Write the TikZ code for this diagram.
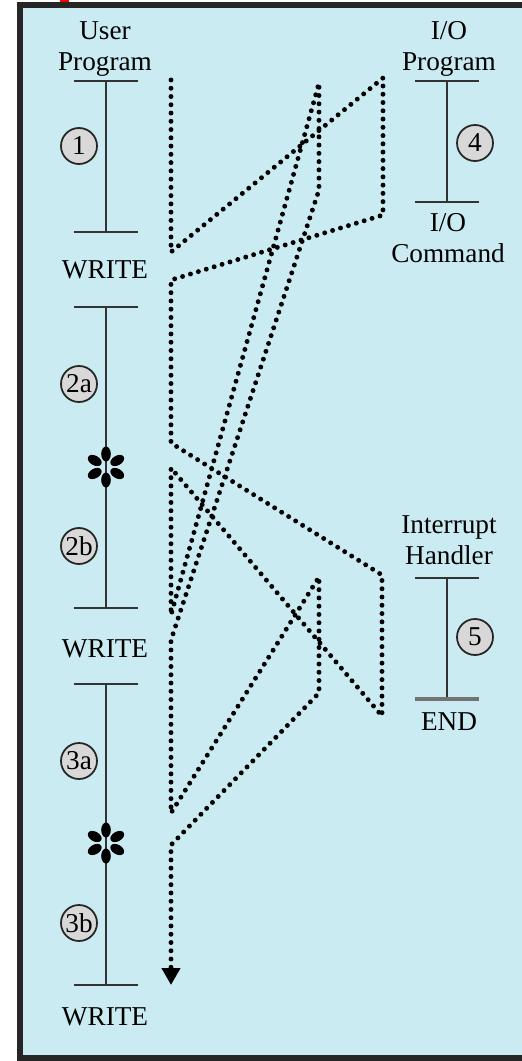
\documentclass[tikz,border=0pt]{standalone}
\usepackage{fontspec}
\setmainfont{Liberation Serif}
\usepackage{tikz}
\usetikzlibrary{arrows.meta,positioning,calc}
\definecolor{panelblue}{RGB}{203,235,242}
\definecolor{badgegray}{RGB}{216,216,216}

\begin{document}
\begin{tikzpicture}[x=0.2mm, y=-0.2mm,
    lbl/.style={font=\fontsize{15.5}{17.5}\selectfont, align=center, inner sep=0pt},
    badge/.style={circle, draw=black!85, fill=badgegray, line width=1pt, minimum size=7.2mm, inner sep=0pt, font=\fontsize{15.5}{17}\selectfont},
    tl/.style={line width=1.1pt, draw=black!80},
    flow/.style={line width=2.8pt, line cap=round, dash pattern=on 0pt off 4.7pt, -{Triangle[length=3.4mm,width=3.6mm]}}]
    \useasboundingbox (0,0) rectangle (522,1061);
    \clip (0,0) rectangle (522,1061);

    % Panel
    \draw [line width=3pt, draw=black!85, fill=panelblue] (20,5) rectangle (540,1058);
    \fill [red] (60,0) rectangle (69,2);

    % User program timeline
    \foreach \a/\b in {81/232, 307/608, 684/985} {
        \draw [tl] (106,\a) -- (106,\b);
        \draw [tl] (74,\a) -- (138,\a);
        \draw [tl] (74,\b) -- (138,\b);
    }
    % I/O program and interrupt handler
    \draw [tl] (447,81) -- (447,202);
    \draw [tl] (415,81) -- (479,81);
    \draw [tl] (415,202) -- (479,202);
    \draw [tl] (447,578) -- (447,699);
    \draw [tl] (415,578) -- (479,578);
    \draw [line width=1.8pt, draw=black!55] (415,699) -- (479,699);

    % Interrupt marks
    \foreach \n/\y in {star2/467, star3/843} {
        \coordinate (\n) at (106,\y);
        \foreach \a in {30,90,...,330}
            \fill [shift={(\n)}, rotate=\a] (13,0) ellipse (7.5 and 4.8);
    }

    % Labels
    \node [lbl] (user) at (105,49) {User\\Program};
    \node [lbl] (write1) at (105,270) {WRITE};
    \node [lbl] (write2) at (105,649) {WRITE};
    \node [lbl] (write3) at (105,1017) {WRITE};
    \node [lbl] (ioprog) at (449,49) {I/O\\Program};
    \node [lbl] (iocmd) at (448,238) {I/O\\Command};
    \node [lbl] (handler) at (449,540) {Interrupt\\Handler};
    \node [lbl] (end) at (449,722) {END};

    % Numbered badges
    \foreach \n/\x/\y/\t in {c1/79/146/1, c2a/79/384/2a, c2b/79/546/2b, c3a/79/761/3a, c3b/79/923/3b, c4/475/143/4, c5/475/637/5}
        \node [badge] (\n) at (\x,\y) {\t};

    % Flow of control
    \foreach \n/\x/\y in {f1/171/80, f2/171/252, f3/383/78, f4/383/215, f5/171/280, f6/171/443,
        f7/382/575, f8/382/716, f9/171/468, f10/171/615, f11/319/83, f12/319/190,
        f13/171/640, f14/171/813, f15/319/577, f16/319/693, f17/171/845, f18/171/985}
        \coordinate (\n) at (\x,\y);
    \draw [flow] (f1) -- (f2) -- (f3) -- (f4) -- (f5) -- (f6) -- (f7) -- (f8) -- (f9)
        -- (f10) -- (f11) -- (f12) -- (f13) -- (f14) -- (f15) -- (f16) -- (f17) -- (f18);
\end{tikzpicture}
\end{document}
